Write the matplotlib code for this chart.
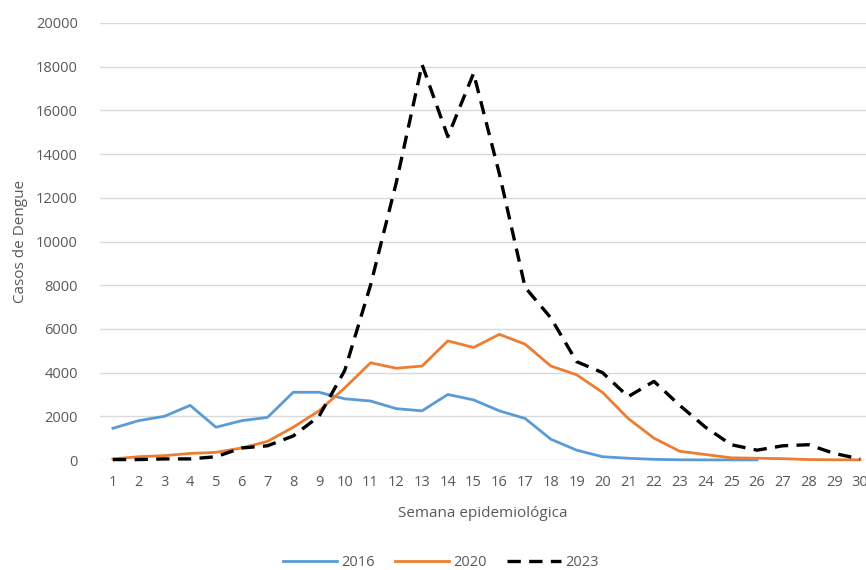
import matplotlib
matplotlib.use("Agg")
import matplotlib.pyplot as plt

weeks = list(range(1, 31))
cases_2016 = [1450, 1800, 2000, 2500, 1500, 1800, 1950, 3100, 3100, 2800,
              2700, 2350, 2250, 3000, 2750, 2250, 1900, 950, 450, 150,
              80, 30, 10, 5, 5, 5]
cases_2020 = [50, 150, 200, 300, 350, 550, 850, 1500, 2250, 3300,
              4450, 4200, 4300, 5450, 5150, 5750, 5300, 4300, 3900, 3100,
              1900, 1000, 400, 250, 100, 80, 60, 20, 10, 10]
cases_2023 = [20, 20, 50, 50, 150, 550, 650, 1100, 2000, 4100,
              8000, 12700, 18100, 14800, 17700, 13100, 7900, 6500, 4500, 4000,
              2900, 3600, 2500, 1500, 700, 450, 650, 700, 300, 50]
yticks = list(range(0, 20001, 2000))

plt.rcParams['font.family'] = ['Open Sans', 'DejaVu Sans']
gray = '#595959'

fig = plt.figure(figsize=(8.66, 5.70), dpi=100)
ax = fig.add_axes([100/866, 1-460/570, 766/866, (460-23)/570])

ax.plot(weeks[:len(cases_2016)], cases_2016, color='#5B9BD5', lw=2.0, label='2016', clip_on=False, zorder=3)
ax.plot(weeks, cases_2020, color='#ED7D31', lw=2.0, label='2020', clip_on=False, zorder=3)
ax.plot(weeks, cases_2023, color='black', lw=2.4, ls=(0, (4, 2.5)), label='2023', clip_on=False, zorder=4)

ax.set_xlim(0.5, 30.23)
ax.set_ylim(0, 20000)
ax.set_yticks(yticks)
ax.set_xticks(weeks)
ax.yaxis.grid(True, color='#D9D9D9', lw=1.0)
ax.set_axisbelow(True)
for s in ax.spines.values():
    s.set_visible(False)
ax.tick_params(axis='both', length=0, colors=gray, labelsize=10.5)
ax.tick_params(axis='y', pad=16)
ax.tick_params(axis='x', pad=11)
ax.set_xlabel('Semana epidemiológica', color=gray, fontsize=11, labelpad=11)
ax.set_ylabel('Casos de Dengue', color=gray, fontsize=11, labelpad=6)

leg = fig.legend(loc='center', bbox_to_anchor=(441/866, 1-563/570), ncol=3, frameon=False,
                 handlelength=3.7, columnspacing=1.4, fontsize=10.5, handletextpad=0.3)
for t in leg.get_texts():
    t.set_color(gray)

fig.savefig('out.png', dpi=100)
